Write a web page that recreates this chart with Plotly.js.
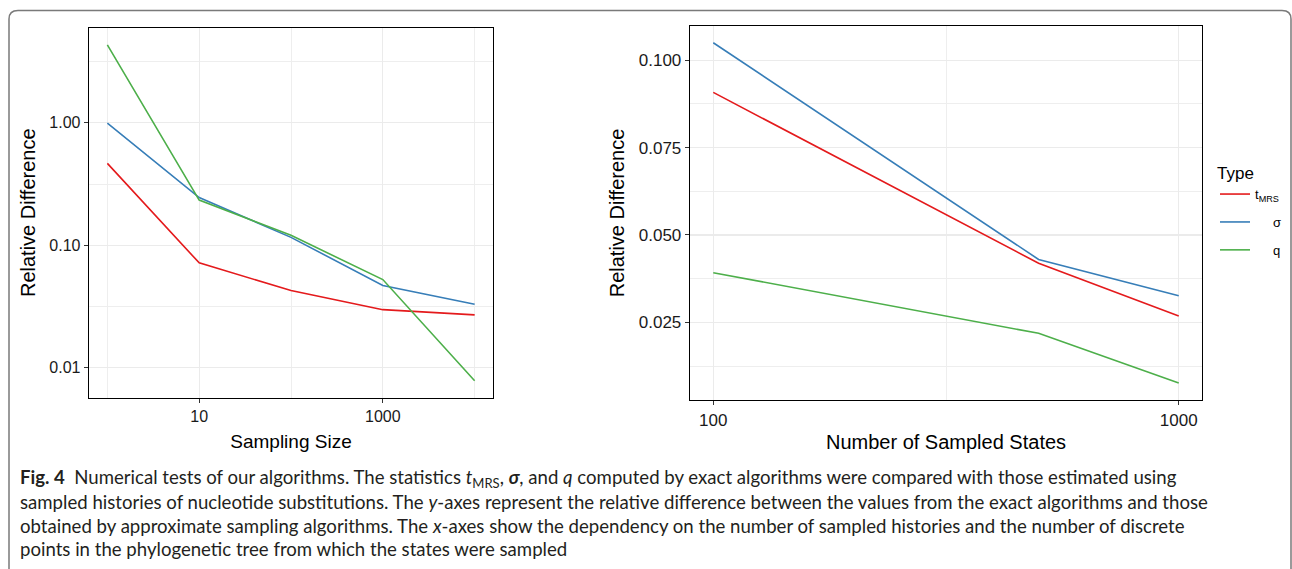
<!DOCTYPE html>
<html>
<head>
<meta charset="utf-8">
<script src="https://cdn.plot.ly/plotly-3.0.1.min.js"></script>
<style>html,body{margin:0;padding:0;background:#fff;}#chart{width:1292px;height:569px;}</style>
</head>
<body>
<div id="chart"></div>
<script>
// Left panel: relative difference vs sampling size
const samplingSize = [1, 10, 100, 1000, 10000];
const leftTmrs  = [0.466, 0.0718, 0.0427, 0.0298, 0.0270];
const leftSigma = [0.994, 0.245, 0.116, 0.0470, 0.0330];
const leftQ     = [4.33, 0.234, 0.1205, 0.0525, 0.00783];

// Right panel: relative difference vs number of sampled states
const sampledStates = [100, 500, 1000];
const rightTmrs  = [0.0908, 0.0419, 0.0268];
const rightSigma = [0.1050, 0.0430, 0.0326];
const rightQ     = [0.0392, 0.02185, 0.00764];

const seriesNames = ['t<sub>MRS</sub>', '\u00a0\u00a0\u00a0\u00a0\u00a0\u03c3', '\u00a0\u00a0\u00a0\u00a0\u00a0q'];
const seriesColors = ['#E41A1C', '#377EB8', '#4DAF4A'];

const leftXTicks = [10, 1000];
const leftXTickText = ['10', '1000'];
const leftYTicks = [0.01, 0.1, 1];
const leftYTickText = ['0.01', '0.10', '1.00'];
const rightXTicks = [100, 1000];
const rightXTickText = ['100', '1000'];
const rightYTicks = [0.025, 0.05, 0.075, 0.1];
const rightYTickText = ['0.025', '0.050', '0.075', '0.100'];

const captionLines = [
  '<b>Fig. 4</b>  Numerical tests of our algorithms. The statistics <i>t</i><sub>MRS</sub>, <b><i>\u03c3</i></b>, and <i>q</i> computed by exact algorithms were compared with those estimated using',
  'sampled histories of nucleotide substitutions. The <i>y</i>-axes represent the relative difference between the values from the exact algorithms and those',
  'obtained by approximate sampling algorithms. The <i>x</i>-axes show the dependency on the number of sampled histories and the number of discrete',
  'points in the phylogenetic tree from which the states were sampled'
];

const W = 1292, H = 569;
const px = v => v / W;
const py = v => 1 - v / H;

const leftY = [leftTmrs, leftSigma, leftQ];
const rightY = [rightTmrs, rightSigma, rightQ];
const traces = [];
for (let i = 0; i < 3; i++) {
  traces.push({x: samplingSize, y: leftY[i], type: 'scatter', mode: 'lines', xaxis: 'x', yaxis: 'y',
    line: {color: seriesColors[i], width: 1.6}, name: seriesNames[i], legendgroup: 'g' + i, showlegend: false, hoverinfo: 'x+y'});
}
for (let i = 0; i < 3; i++) {
  traces.push({x: sampledStates, y: rightY[i], type: 'scatter', mode: 'lines', xaxis: 'x2', yaxis: 'y2',
    line: {color: seriesColors[i], width: 1.6}, name: seriesNames[i], legendgroup: 'g' + i, showlegend: true, hoverinfo: 'x+y'});
}

const font = '"Liberation Sans", Arial, sans-serif';
const axisCommon = {
  showline: true, mirror: true, linecolor: '#000', linewidth: 1.3,
  ticks: 'outside', ticklen: 4, tickwidth: 1, tickcolor: '#333',
  showgrid: true, gridcolor: '#ebebeb', gridwidth: 1.2, zeroline: false,
  tickmode: 'array'
};
const minorGrid = {tickmode: 'array', ticks: '', showgrid: true, gridcolor: '#eeeeee', gridwidth: 1};

const layout = {
  width: W, height: H,
  margin: {l: 0, r: 0, t: 0, b: 0},
  paper_bgcolor: '#fff', plot_bgcolor: '#fff',
  font: {family: font, color: '#000'},
  xaxis: Object.assign({}, axisCommon, {
    type: 'log', domain: [px(89), px(493)], range: [-0.2, 4.2], anchor: 'y',
    tickvals: leftXTicks, ticktext: leftXTickText, tickfont: {size: 16, color: '#1a1a1a'},
    minor: Object.assign({tickvals: [1, 100, 10000]}, minorGrid),
    title: {text: 'Sampling Size', font: {size: 19}, standoff: 10}
  }),
  yaxis: Object.assign({}, axisCommon, {
    type: 'log', domain: [py(397.5), py(28)], range: [-2.243, 0.774], anchor: 'x',
    tickvals: leftYTicks, ticktext: leftYTickText, tickfont: {size: 16, color: '#1a1a1a'},
    minor: Object.assign({tickvals: [Math.pow(10, -1.5), Math.pow(10, -0.5), Math.pow(10, 0.5)]}, minorGrid),
    title: {text: 'Relative Difference', font: {size: 20}, standoff: 8}
  }),
  xaxis2: Object.assign({}, axisCommon, {
    type: 'log', domain: [px(690), px(1202)], range: [1.95, 3.05], anchor: 'y2',
    tickvals: rightXTicks, ticktext: rightXTickText, tickfont: {size: 17, color: '#1a1a1a'},
    minor: Object.assign({tickvals: [Math.pow(10, 2.5)]}, minorGrid),
    title: {text: 'Number of Sampled States', font: {size: 20}, standoff: 6}
  }),
  yaxis2: Object.assign({}, axisCommon, {
    domain: [py(400), py(26)], range: [0.00277, 0.1098], anchor: 'x2',
    tickvals: rightYTicks, ticktext: rightYTickText, tickfont: {size: 17, color: '#1a1a1a'},
    minor: Object.assign({tickvals: [0.0125, 0.0375, 0.0625, 0.0875]}, minorGrid),
    title: {text: 'Relative Difference', font: {size: 20}, standoff: 8}
  }),
  legend: {
    x: px(1215), y: py(157), xanchor: 'left', yanchor: 'top',
    title: {text: 'Type', font: {size: 17}},
    font: {size: 13}, traceorder: 'grouped', tracegroupgap: 8,
    bgcolor: 'rgba(0,0,0,0)'
  },
  shapes: [{
    type: 'path', xref: 'paper', yref: 'paper', layer: 'above',
    path: `M ${px(9)} ${py(580)} L ${px(9)} ${py(19)} Q ${px(9)} ${py(10.5)} ${px(18)} ${py(10.5)} L ${px(1282)} ${py(10.5)} Q ${px(1291)} ${py(10.5)} ${px(1291)} ${py(19)} L ${px(1291)} ${py(580)}`,
    line: {color: '#7a7a7a', width: 1.5}
  }],
  annotations: captionLines.map((t, i) => ({
    text: t, xref: 'paper', yref: 'paper', x: px(18), y: py([478, 502, 526, 549][i]),
    xanchor: 'left', yanchor: 'middle', showarrow: false, align: 'left',
    font: {family: 'Lato, "Open Sans", sans-serif', size: 18.6, color: '#231f20'}
  }))
};

Plotly.newPlot('chart', traces, layout, {displayModeBar: false, staticPlot: true});
</script>
</body>
</html>
